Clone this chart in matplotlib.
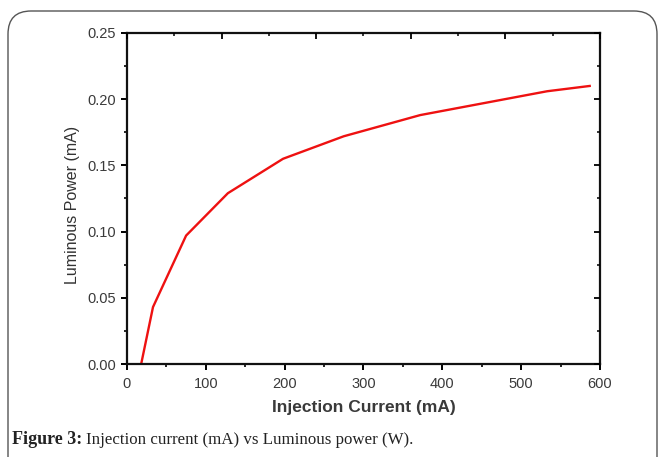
import numpy as np
import matplotlib.pyplot as plt
from matplotlib.patches import FancyBboxPatch
from matplotlib.ticker import MultipleLocator

# data
current = [18, 33, 75, 128, 198, 275, 372, 533, 587]
power = [0.0, 0.043, 0.097, 0.129, 0.155, 0.172, 0.188, 0.206, 0.210]
x_ticks = [0, 100, 200, 300, 400, 500, 600]
y_ticks = [0.00, 0.05, 0.10, 0.15, 0.20, 0.25]

plt.rcParams['font.family'] = ['Liberation Sans', 'DejaVu Sans']

fig = plt.figure(figsize=(6.6, 4.57), dpi=100)
ax = fig.add_axes([0.1924, 0.2035, 0.7166, 0.7243])

ax.plot(current, power, color='#ee1111', lw=1.7)
ax.set_xlim(0, 600)
ax.set_ylim(0, 0.25)
ax.set_xticks(x_ticks)
ax.set_yticks(y_ticks)
ax.set_yticklabels(["%.2f" % v for v in y_ticks])
ax.xaxis.set_minor_locator(MultipleLocator(50))
ax.yaxis.set_minor_locator(MultipleLocator(0.025))
for s in ax.spines.values():
    s.set_linewidth(1.6)
    s.set_color('#111111')
ax.tick_params(which='major', direction='out', length=4, width=1.4, labelsize=10.5,
               labelcolor='#3a3a3a', top=False, right=False)
ax.tick_params(which='minor', direction='out', length=2.5, width=1.2, top=False, right=False)
ax.tick_params(axis='y', pad=4)
ax.tick_params(axis='x', pad=5)

ax.set_xlabel("Injection Current (mA)", fontsize=12.5, fontweight='bold',
              color='#3a3a3a', labelpad=7)
ax.set_ylabel("Luminous Power (mA)", fontsize=11.5, color='#333333')
ax.yaxis.set_label_coords(-0.10, 0.48)

# mirrored ticks on top and right, pointing in
top = ax.twiny()
top.set_xlim(0, 600)
top.xaxis.set_major_locator(MultipleLocator(120))
top.xaxis.set_minor_locator(MultipleLocator(60))
top.tick_params(which='major', direction='in', length=4, width=1.3, labeltop=False)
top.tick_params(which='minor', direction='in', length=2.5, width=1.1)
right = ax.twinx()
right.set_ylim(0, 0.25)
right.yaxis.set_major_locator(MultipleLocator(0.05))
right.yaxis.set_minor_locator(MultipleLocator(0.025))
right.tick_params(which='major', direction='in', length=4, width=1.3, labelright=False)
right.tick_params(which='minor', direction='in', length=2.5, width=1.1)
for a in (top, right):
    for s in a.spines.values():
        s.set_visible(False)

# rounded frame and caption
frame = FancyBboxPatch((8 / 660, -0.1), 649 / 660, (446 / 457) + 0.1,
                       boxstyle="round,pad=0,rounding_size=0.035",
                       transform=fig.transFigure, fill=False,
                       edgecolor='#555555', lw=1.0, mutation_aspect=660 / 457)
fig.patches.append(frame)

fig.text(12 / 660, 1 - 440 / 457, "Figure 3:", family='Liberation Serif',
         fontweight='bold', fontsize=13, va='center', ha='left', color='#222222')
fig.text(86 / 660, 1 - 440 / 457, "Injection current (mA) vs Luminous power (W).",
         family='Liberation Serif', fontsize=12.2, va='center', ha='left', color='#222222')

fig.savefig("out.png", dpi=100)
